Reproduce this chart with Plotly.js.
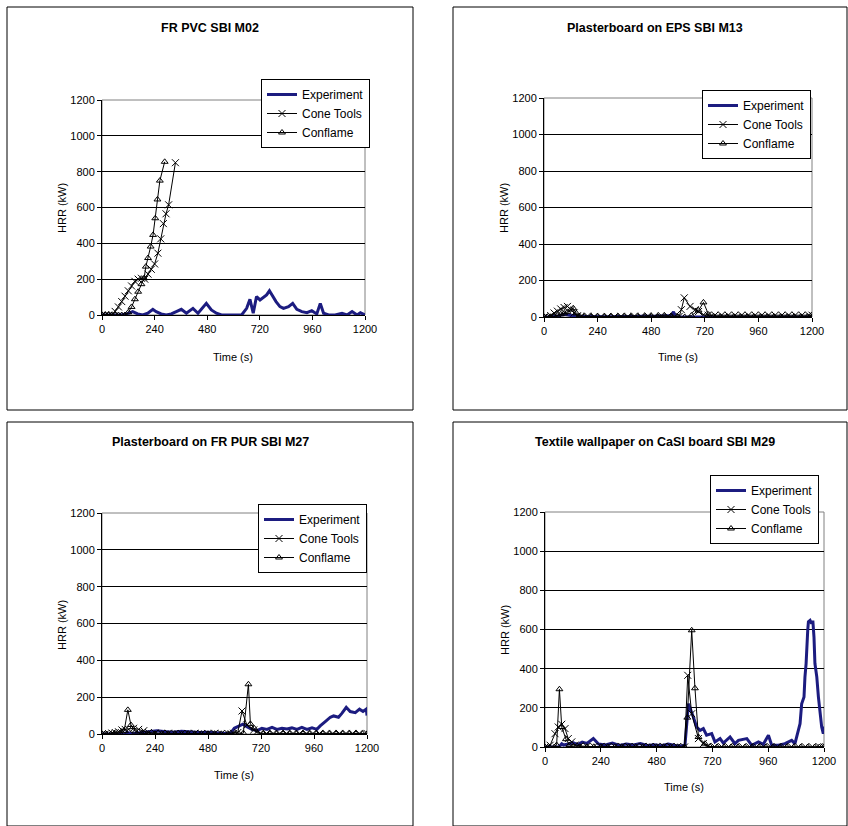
<!DOCTYPE html>
<html>
<head>
<meta charset="utf-8">
<script src="https://cdn.plot.ly/plotly-3.0.1.min.js"></script>
<style>html,body{margin:0;padding:0;background:#fff;}#chart{width:848px;height:826px;}</style>
</head>
<body>
<div id="chart"></div>
<script>
// ---------- DATA ----------
var titles = ["FR PVC SBI M02", "Plasterboard on EPS SBI M13", "Plasterboard on FR PUR SBI M27", "Textile wallpaper on CaSI board SBI M29"];
var seriesNames = ["Experiment", "Cone Tools", "Conflame"];
var xTicks = [0, 240, 480, 720, 960, 1200];
var yTicks = [0, 200, 400, 600, 800, 1000, 1200];

// Panel 1: FR PVC SBI M02
var exp1_t = [0,30,60,90,110,125,140,163,186,209,232,247,270,293,316,339,362,385,415,438,476,499,522,545,583,600,620,637,660,675,690,705,721,736,751,764,779,794,812,828,851,870,889,912,935,957,980,996,1011,1034,1064,1095,1118,1141,1164,1179,1200];
var exp1_v = [0,0,0,2,5,13,19,6,0,10,32,19,6,0,6,19,32,10,37,10,65,28,10,0,0,0,0,0,37,88,10,103,84,99,112,135,103,75,47,37,47,65,32,19,13,24,6,65,10,0,0,10,0,19,0,13,0];
var cone1_t = [0,15,30,45,60,75,90,105,120,135,150,165,180,195,210,225,240,255,268,280,292,304,335];
var cone1_v = [0,0,0,2,20,45,75,105,135,162,188,200,205,200,228,255,285,345,425,510,565,615,850];
var conf1_t = [0,15,30,45,60,75,90,105,120,135,150,165,180,192,200,210,222,233,243,253,264,286];
var conf1_v = [0,0,0,0,0,0,0,0,15,45,88,130,172,205,270,318,382,447,540,645,750,855];

// Panel 2: Plasterboard on EPS SBI M13
var exp2_t = [0,30,60,75,90,105,120,135,150,180,210,240,270,300,330,360,390,420,450,480,510,540,570,580,590,620,700,800,900,1000,1100,1200];
var exp2_v = [0,0,5,10,15,12,8,10,4,3,2,3,2,2,3,2,4,3,5,3,6,5,8,28,0,0,0,0,0,0,0,0];
var cone2_t = [0,15,30,45,60,75,90,105,120,135,150,165,195,225,255,285,315,345,375,405,435,465,495,525,555,585,605,615,628,654,677,692,714,735,765,795,825,855,885,915,945,975,1005,1035,1065,1095,1125,1155,1185,1200];
var cone2_v = [0,0,8,22,32,44,52,58,40,22,7,3,5,3,2,3,2,4,3,5,3,6,4,8,5,3,3,40,105,58,40,30,12,10,10,10,10,10,10,10,10,10,10,10,10,10,10,10,10,10];
var conf2_t = [0,15,30,45,60,75,90,105,120,131,145,160,180,210,240,270,300,330,360,390,420,450,480,510,540,570,600,630,660,692,714,737,760,790,820,850,880,910,940,970,1000,1030,1060,1090,1120,1150,1180,1200];
var conf2_v = [0,0,0,2,8,15,20,28,40,48,20,5,2,1,2,1,2,1,2,1,2,1,2,1,2,1,0,0,8,36,80,13,3,2,2,2,2,2,2,2,2,2,2,2,2,2,2,2];

// Panel 3: Plasterboard on FR PUR SBI M27
var exp3_t = [0,50,98,113,130,160,200,249,280,320,360,400,440,480,520,560,581,599,619,638,656,679,702,724,747,770,792,815,838,860,883,905,928,951,973,988,1011,1034,1049,1071,1087,1106,1124,1147,1166,1182,1197,1200];
var exp3_v = [0,0,0,9,3,5,10,18,13,9,15,12,8,10,6,4,2,31,44,53,40,25,18,31,25,36,25,31,27,33,25,36,25,33,25,44,67,91,98,91,113,145,122,116,135,122,135,100];
var cone3_t = [0,15,30,45,60,75,90,105,121,143,166,189,210,240,270,300,330,360,390,420,450,480,510,540,570,596,615,634,656,687,717,745,775,805,835,865,895,925,955,985,1015,1045,1075,1105,1135,1165,1200];
var cone3_v = [0,0,2,5,8,12,22,25,25,31,25,18,8,5,3,4,3,2,3,4,2,3,4,2,3,4,8,125,49,22,4,3,3,3,3,3,3,3,3,3,3,3,3,3,3,3,3];
var conf3_t = [0,20,40,60,80,100,117,131,151,180,210,240,270,300,330,360,390,420,450,480,510,540,570,600,620,640,663,672,690,705,730,760,790,820,850,880,910,940,970,1000,1030,1060,1090,1120,1150,1180,1200];
var conf3_v = [0,0,0,2,5,15,131,49,13,3,2,1,2,1,2,1,2,1,2,1,2,1,2,1,0,5,270,55,30,5,1,1,1,1,1,1,1,1,1,1,1,1,1,1,1,1,1];

// Panel 4: Textile wallpaper on CaSI board SBI M29
var exp4_t = [0,30,60,72,80,100,120,140,160,180,208,230,260,290,320,350,380,410,440,470,500,530,560,590,602,617,624,638,652,667,681,695,717,731,753,767,796,817,832,868,889,918,939,961,975,1004,1032,1061,1075,1083,1097,1104,1114,1118,1123,1130,1133,1140,1147,1152,1157,1161,1169,1176,1180,1190,1197,1200];
var exp4_v = [0,0,0,17,10,15,22,12,25,18,43,15,10,20,8,15,10,18,8,12,6,15,8,5,10,221,200,153,102,85,94,60,68,26,43,20,51,17,34,43,9,26,14,60,9,9,17,34,17,60,119,221,255,357,426,596,640,647,630,645,560,426,358,255,204,102,68,105];
var cone4_t = [0,22,43,57,72,86,100,115,130,150,180,210,240,270,300,330,360,390,420,450,480,510,540,570,600,614,631,660,681,700,730,760,790,820,850,880,910,940,970,1000,1030,1060,1090,1120,1150,1180,1200];
var cone4_v = [0,9,68,102,116,94,43,26,10,5,3,2,3,2,2,3,2,2,3,2,2,3,2,2,0,366,170,43,17,3,1,1,1,1,1,1,1,1,1,1,1,1,1,1,1,1,1];
var conf4_t = [0,20,40,50,62,72,90,105,120,150,180,210,240,270,300,330,360,390,420,450,480,510,540,570,600,612,631,645,660,688,710,740,770,800,830,860,890,920,950,980,1010,1040,1070,1100,1130,1160,1180,1200];
var conf4_v = [0,0,0,10,295,102,40,10,0,1,1,1,1,1,1,1,1,1,1,1,1,1,1,1,0,150,596,300,51,17,2,0,0,0,0,0,0,0,0,0,0,0,0,0,0,0,0,0];

// ---------- LAYOUT GEOMETRY (pixels) ----------
var W = 848, H = 826;
function px(x){ return x / W; }
function py(y){ return 1 - y / H; }
var panels = [
  {exp:[exp1_t,exp1_v], cone:[cone1_t,cone1_v], conf:[conf1_t,conf1_v], plot:[102,100,365,315], box:[7,7,413,410], title:[210,28], xt:[233,357], yt:[62,208], leg:[261,79]},
  {exp:[exp2_t,exp2_v], cone:[cone2_t,cone2_v], conf:[conf2_t,conf2_v], plot:[544,98,812,317], box:[453,7,847,410], title:[655,28], xt:[678,357], yt:[504,208], leg:[702,90]},
  {exp:[exp3_t,exp3_v], cone:[cone3_t,cone3_v], conf:[conf3_t,conf3_v], plot:[102,513,367,734], box:[7,422,413,826], title:[210,442], xt:[234,775], yt:[62,625], leg:[258,504]},
  {exp:[exp4_t,exp4_v], cone:[cone4_t,cone4_v], conf:[conf4_t,conf4_v], plot:[545,512,824,747], box:[453,422,847,826], title:[655,442], xt:[684,787], yt:[505,630], leg:[710,475]}
];

var font = "Arial, 'Liberation Sans', sans-serif";
var traces = [];
var layout = {
  width: W, height: H,
  margin: {l:0, r:0, t:0, b:0},
  paper_bgcolor: "#fff", plot_bgcolor: "#fff",
  font: {family: font, size: 11, color: "#000"},
  showlegend: true,
  shapes: [], annotations: []
};

panels.forEach(function(p, i){
  var n = i + 1;
  var xa = "x" + (n === 1 ? "" : n), ya = "y" + (n === 1 ? "" : n);
  var xk = "xaxis" + (n === 1 ? "" : n), yk = "yaxis" + (n === 1 ? "" : n);
  var lg = "legend" + (n === 1 ? "" : n);
  traces.push({x: p.exp[0], y: p.exp[1], xaxis: xa, yaxis: ya, legend: lg, name: seriesNames[0], type: "scatter", mode: "lines",
    line: {color: "#1c1c80", width: 3}});
  traces.push({x: p.cone[0], y: p.cone[1], xaxis: xa, yaxis: ya, legend: lg, name: seriesNames[1], type: "scatter", mode: "lines+markers",
    line: {color: "#000", width: 1}, marker: {symbol: "x-thin-open", size: 7, color: "#000", line: {color: "#000", width: 1}}});
  traces.push({x: p.conf[0], y: p.conf[1], xaxis: xa, yaxis: ya, legend: lg, name: seriesNames[2], type: "scatter", mode: "lines+markers",
    line: {color: "#000", width: 1}, marker: {symbol: "triangle-up-open", size: 6, color: "#000", line: {color: "#000", width: 1}}});

  layout[xk] = {domain: [px(p.plot[0]), px(p.plot[2])], anchor: ya, range: [0, 1200], tickvals: xTicks, ticktext: xTicks.map(String),
    showgrid: false, zeroline: false, showline: true, linecolor: "#000", linewidth: 1, ticks: "outside", ticklen: 4, tickcolor: "#000",
    tickfont: {family: font, size: 11}, fixedrange: true};
  layout[yk] = {domain: [py(p.plot[3]), py(p.plot[1])], anchor: xa, range: [0, 1200], tickvals: yTicks, ticktext: yTicks.map(String),
    showgrid: true, gridcolor: "#000", gridwidth: 1, zeroline: false, showline: true, linecolor: "#000", linewidth: 1,
    ticks: "outside", ticklen: 4, tickcolor: "#000", tickfont: {family: font, size: 11}, fixedrange: true};

  layout[lg] = {x: px(p.leg[0]), y: py(p.leg[1]), xanchor: "left", yanchor: "top", bgcolor: "#fff", bordercolor: "#000", borderwidth: 1,
    font: {family: font, size: 12}, itemwidth: 30, tracegroupgap: 0};

  layout.shapes.push({type: "rect", xref: "paper", yref: "paper", x0: px(p.plot[0]), x1: px(p.plot[2]), y0: py(p.plot[3]), y1: py(p.plot[1]),
    line: {color: "#808080", width: 1}, layer: "below"});
  layout.shapes.push({type: "rect", xref: "paper", yref: "paper", x0: px(p.box[0]), x1: px(p.box[2]), y0: py(p.box[3]), y1: py(p.box[1]),
    line: {color: "#000", width: 1}});

  layout.annotations.push({text: "<b>" + titles[i] + "</b>", xref: "paper", yref: "paper", x: px(p.title[0]), y: py(p.title[1]),
    xanchor: "center", yanchor: "middle", showarrow: false, font: {family: font, size: 12.5, color: "#000"}});
  layout.annotations.push({text: "Time (s)", xref: "paper", yref: "paper", x: px(p.xt[0]), y: py(p.xt[1]),
    xanchor: "center", yanchor: "middle", showarrow: false, font: {family: font, size: 11}});
  layout.annotations.push({text: "HRR (kW)", xref: "paper", yref: "paper", x: px(p.yt[0]), y: py(p.yt[1]), textangle: -90,
    xanchor: "center", yanchor: "middle", showarrow: false, font: {family: font, size: 11}});
});

Plotly.newPlot("chart", traces, layout, {displayModeBar: false, staticPlot: true});
</script>
</body>
</html>
